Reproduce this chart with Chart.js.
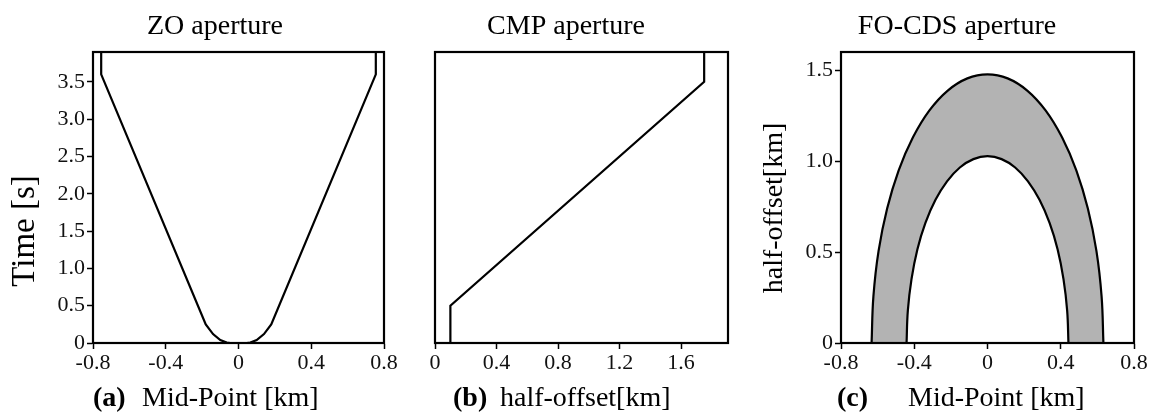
<!DOCTYPE html>
<html>
<head>
<meta charset="utf-8">
<script src="https://cdn.jsdelivr.net/npm/chart.js@4/dist/chart.umd.min.js"></script>
<style>
  body { margin: 0; background: #fff; }
  #wrap { position: relative; width: 1149px; height: 413px; }
  .pane { position: absolute; top: 0; height: 413px; }
</style>
</head>
<body>
<div id="wrap">
  <div class="pane" style="left:0;width:400px"><canvas id="zo"></canvas></div>
  <div class="pane" style="left:400px;width:345px"><canvas id="cmp"></canvas></div>
  <div class="pane" style="left:745px;width:404px"><canvas id="cds"></canvas></div>
</div>
<script>
// (a) ZO aperture: mid-point [km] vs time [s]
const zoX = [-0.755, -0.755, -0.18, -0.14, -0.1, -0.065, -0.045,
             0.045, 0.065, 0.1, 0.14, 0.18, 0.755, 0.755];
const zoT = [3.9, 3.6, 0.25, 0.12, 0.04, 0.005, 0,
             0, 0.005, 0.04, 0.12, 0.25, 3.6, 3.9];

// (b) CMP aperture: half-offset [km] vs time [s]
const cmpH = [0.1, 0.1, 1.75, 1.75];
const cmpT = [0, 0.5, 3.5, 3.9];

// (c) FO-CDS aperture: mid-point [km] vs half-offset [km]
const cdsOuterX = [-0.633, -0.623, -0.595, -0.548, -0.485, -0.407, -0.317, -0.217, -0.11, 0,
                   0.11, 0.217, 0.317, 0.407, 0.485, 0.548, 0.595, 0.623, 0.633];
const cdsOuterH = [0, 0.256, 0.505, 0.739, 0.949, 1.131, 1.279, 1.388, 1.455, 1.477,
                   1.455, 1.388, 1.279, 1.131, 0.949, 0.739, 0.505, 0.256, 0];
const cdsInnerX = [-0.442, -0.435, -0.415, -0.383, -0.339, -0.284, -0.221, -0.151, -0.077, 0,
                   0.077, 0.151, 0.221, 0.284, 0.339, 0.383, 0.415, 0.435, 0.442];
const cdsInnerH = [0, 0.178, 0.351, 0.514, 0.66, 0.787, 0.889, 0.965, 1.011, 1.027,
                   1.011, 0.965, 0.889, 0.787, 0.66, 0.514, 0.351, 0.178, 0];

// ticks
const midTicks = [-0.8, -0.4, 0, 0.4, 0.8];
const midLabels = ['-0.8', '-0.4', '0', '0.4', '0.8'];
const timeTicks = [0, 0.5, 1.0, 1.5, 2.0, 2.5, 3.0, 3.5];
const timeLabels = ['0', '0.5', '1.0', '1.5', '2.0', '2.5', '3.0', '3.5'];
const hoTicks = [0, 0.4, 0.8, 1.2, 1.6];
const hoLabels = ['0', '0.4', '0.8', '1.2', '1.6'];
const hoYTicks = [0, 0.5, 1.0, 1.5];
const hoYLabels = ['0', '0.5', '1.0', '1.5'];

const SERIF = "'Liberation Serif', 'Times New Roman', serif";

function pts(xs, ys) {
  return xs.map((x, i) => ({ x: x, y: ys[i] }));
}

// frame + titles drawn after the chart
const framePlugin = {
  id: 'frame',
  afterDraw(chart, args, o) {
    const ctx = chart.ctx, a = chart.chartArea;
    ctx.save();
    ctx.strokeStyle = '#000';
    ctx.lineWidth = 2.2;
    ctx.strokeRect(a.left, a.top, a.right - a.left, a.bottom - a.top);
    ctx.fillStyle = '#000';
    ctx.textBaseline = 'alphabetic';
    ctx.font = '28px ' + SERIF;
    ctx.textAlign = 'center';
    ctx.fillText(o.title, o.titleX, 34);
    ctx.textAlign = 'left';
    ctx.font = 'bold 28px ' + SERIF;
    ctx.fillText(o.tag, o.tagX, 406);
    ctx.font = '28px ' + SERIF;
    ctx.fillText(o.xLabel, o.xLabelX, 406);
    if (o.yLabel) {
      ctx.font = o.yLabelSize + 'px ' + SERIF;
      ctx.translate(o.yLabelX, o.yLabelY);
      ctx.rotate(-Math.PI / 2);
      ctx.textAlign = 'center';
      ctx.textBaseline = 'middle';
      ctx.fillText(o.yLabel, 0, 0);
    }
    ctx.restore();
  }
};

function xScale(min, max, ticks, labels) {
  return {
    type: 'linear', min: min, max: max,
    afterBuildTicks: s => { s.ticks = ticks.map(v => ({ value: v })); },
    afterFit: s => { s.height = 70; s.paddingLeft = 0; s.paddingRight = 0; },
    grid: { drawOnChartArea: false, drawTicks: true, tickLength: 6, tickColor: '#000', tickWidth: 1.5 },
    border: { display: true, color: '#000', width: 2 },
    ticks: { color: '#111', padding: 1, maxRotation: 0, autoSkip: false,
             font: { family: SERIF, size: 22 }, callback: (v, i) => labels[i] }
  };
}

function yScale(min, max, ticks, labels, width) {
  return {
    type: 'linear', min: min, max: max,
    afterBuildTicks: s => { s.ticks = ticks.map(v => ({ value: v })); },
    afterFit: s => { s.width = width; s.paddingTop = 0; s.paddingBottom = 0; },
    grid: { drawOnChartArea: false, drawTicks: true, tickLength: 6, tickColor: '#000', tickWidth: 1.5 },
    border: { display: true, color: '#000', width: 2 },
    ticks: { color: '#111', padding: 2, autoSkip: false,
             font: { family: SERIF, size: 22 }, callback: (v, i) => labels[i] }
  };
}

const lineStyle = { showLine: true, borderColor: '#000', borderWidth: 2.2, pointRadius: 0, tension: 0, fill: false };

new Chart(document.getElementById('zo'), {
  type: 'scatter',
  data: { datasets: [Object.assign({ data: pts(zoX, zoT) }, lineStyle)] },
  options: {
    responsive: true, maintainAspectRatio: false, animation: false,
    layout: { padding: { top: 52, right: 16, bottom: 0, left: 0 } },
    plugins: { legend: { display: false }, tooltip: { enabled: false },
      frame: { title: 'ZO aperture', titleX: 215, tag: '(a)', tagX: 93, xLabel: 'Mid-Point [km]', xLabelX: 142,
               yLabel: 'Time [s]', yLabelX: 25, yLabelY: 231, yLabelSize: 33 } },
    scales: { x: xScale(-0.8, 0.8, midTicks, midLabels), y: yScale(0, 3.9, timeTicks, timeLabels, 93) }
  },
  plugins: [framePlugin]
});

const cmpY = yScale(0, 3.9, timeTicks, timeLabels, 0);
cmpY.display = false;
new Chart(document.getElementById('cmp'), {
  type: 'scatter',
  data: { datasets: [Object.assign({ data: pts(cmpH, cmpT) }, lineStyle)] },
  options: {
    responsive: true, maintainAspectRatio: false, animation: false,
    layout: { padding: { top: 52, right: 17, bottom: 0, left: 35 } },
    plugins: { legend: { display: false }, tooltip: { enabled: false },
      frame: { title: 'CMP aperture', titleX: 166, tag: '(b)', tagX: 53, xLabel: 'half-offset[km]', xLabelX: 100 } },
    scales: { x: xScale(0, 1.905, hoTicks, hoLabels), y: cmpY }
  },
  plugins: [framePlugin]
});

new Chart(document.getElementById('cds'), {
  type: 'scatter',
  data: {
    datasets: [
      Object.assign({}, lineStyle, { data: pts(cdsInnerX, cdsInnerH), fill: 'origin', backgroundColor: '#ffffff',
                                     tension: 0.4 }),
      Object.assign({}, lineStyle, { data: pts(cdsOuterX, cdsOuterH), fill: 'origin', backgroundColor: '#b3b3b3',
                                     tension: 0.4 })
    ]
  },
  options: {
    responsive: true, maintainAspectRatio: false, animation: false,
    layout: { padding: { top: 52, right: 15, bottom: 0, left: 0 } },
    plugins: { legend: { display: false }, tooltip: { enabled: false },
      frame: { title: 'FO-CDS aperture', titleX: 212, tag: '(c)', tagX: 92, xLabel: 'Mid-Point [km]', xLabelX: 163,
               yLabel: 'half-offset[km]', yLabelX: 30, yLabelY: 208, yLabelSize: 28 } },
    scales: { x: xScale(-0.8, 0.8, midTicks, midLabels), y: yScale(0, 1.6, hoYTicks, hoYLabels, 96) }
  },
  plugins: [framePlugin]
});
</script>
</body>
</html>
